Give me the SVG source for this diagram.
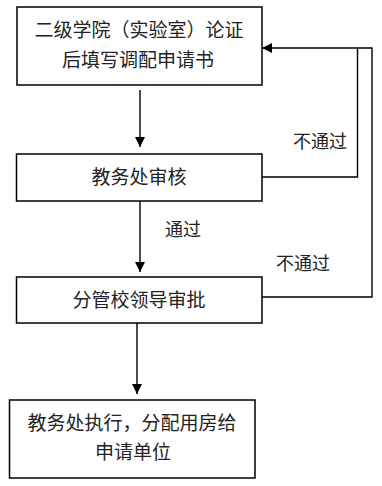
<svg xmlns="http://www.w3.org/2000/svg" width="382" height="486" viewBox="0 0 382 486">
<style>
.box{fill:#fff;stroke:#000;stroke-width:1.5}
.t{font-family:"Noto Sans CJK SC",sans-serif;font-size:19px;fill:#222;text-anchor:middle}
.l{font-family:"Noto Sans CJK SC",sans-serif;font-size:18px;fill:#222;text-anchor:middle}
.c{fill:none;stroke:#000;stroke-width:1.4}
</style>
<defs>
<marker id="ah" markerWidth="10" markerHeight="10" refX="10" refY="5" orient="auto" markerUnits="userSpaceOnUse">
<path d="M0,0 L10,5 L0,10 Z" fill="#000"/>
</marker>
</defs>
<rect width="382" height="486" fill="#fff"/>
<g id="connectors">
<line class="c" x1="140" y1="90" x2="140" y2="147" marker-end="url(#ah)"/>
<line class="c" x1="140" y1="201" x2="140" y2="272" marker-end="url(#ah)"/>
<line class="c" x1="137" y1="323" x2="137" y2="394" marker-end="url(#ah)"/>
<polyline class="c" points="262,177 357.5,177 357.5,48"/>
<polyline class="c" points="262,297 372,297 372,48 262,48" marker-end="url(#ah)"/>
<text class="l" x="320" y="148">不通过</text>
<text class="l" x="183" y="236">通过</text>
<text class="l" x="303" y="270">不通过</text>
</g>
<g id="n1">
<rect class="box" x="17" y="7" width="245" height="78"/>
<text class="t" x="139" y="37">二级学院（实验室）论证</text>
<text class="t" x="138" y="67">后填写调配申请书</text>
</g>
<g id="n2">
<rect class="box" x="16.5" y="154" width="245.5" height="47"/>
<text class="t" x="139" y="184">教务处审核</text>
</g>
<g id="n3">
<rect class="box" x="16.5" y="277" width="245.5" height="46"/>
<text class="t" x="139" y="307">分管校领导审批</text>
</g>
<g id="n4">
<rect class="box" x="9.5" y="400" width="245.5" height="78"/>
<text class="t" x="132" y="430">教务处执行，分配用房给</text>
<text class="t" x="133" y="459">申请单位</text>
</g>
</svg>
